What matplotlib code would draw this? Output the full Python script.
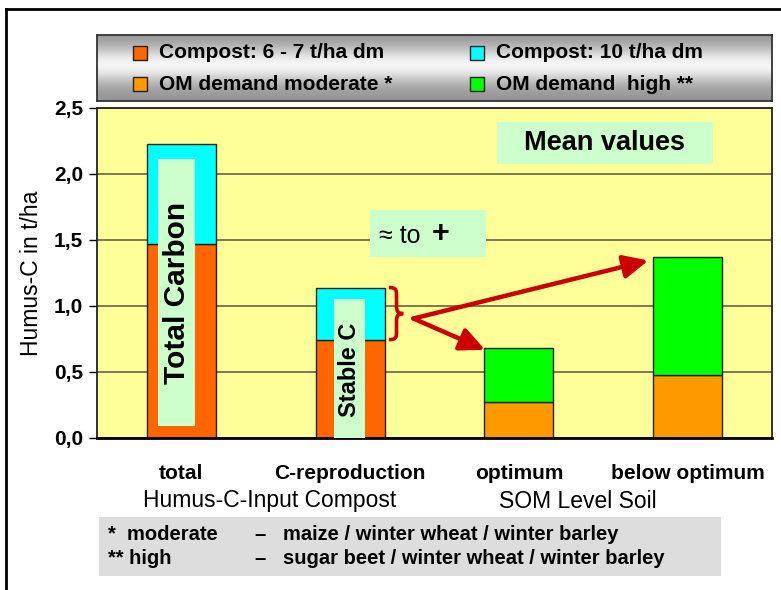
import numpy as np
import matplotlib
matplotlib.use("Agg")
import matplotlib.pyplot as plt
from matplotlib.patches import Rectangle, FancyArrowPatch, PathPatch
from matplotlib.path import Path
from matplotlib.lines import Line2D

plt.rcParams['font.family'] = ['Liberation Sans', 'DejaVu Sans']

# ---- data ----
categories = ["total", "C-reproduction", "optimum", "below optimum"]
groups = ["Humus-C-Input Compost", "SOM Level Soil"]
compost_6_7 = [1.47, 0.745]          # t/ha humus-C, compost 6-7 t/ha dm
compost_10 = [2.23, 1.14]            # t/ha humus-C, compost 10 t/ha dm
om_moderate = [0.27, 0.48]           # OM demand moderate
om_high = [0.68, 1.375]              # OM demand high
yticks = [0.0, 0.5, 1.0, 1.5, 2.0, 2.5]
ytick_labels = ["0,0", "0,5", "1,0", "1,5", "2,0", "2,5"]
legend_labels = ["Compost: 6 - 7 t/ha dm", "Compost: 10 t/ha dm",
                 "OM demand moderate *", "OM demand  high **"]
footnotes = [("*  moderate", "maize / winter wheat / winter barley"),
             ("** high", "sugar beet / winter wheat / winter barley")]

c_red = "#FF6600"
c_cyan = "#00FFFF"
c_orange = "#FF9900"
c_green = "#00FF00"
c_bg = "#FFFF99"
c_box = "#CCFFCC"
c_arrow = "#CC0000"

W, H = 781, 590
fig = plt.figure(figsize=(W / 100, H / 100), dpi=100)

def fx(px):
    return px / W

def fy(py):
    return 1 - py / H

# main axes
ax = fig.add_axes([fx(97), fy(438), (772 - 97) / W, (438 - 108) / H])
ax.set_facecolor(c_bg)
ax.set_xlim(-0.5, 3.5)
ax.set_ylim(0, 2.5)
ax.set_yticks(yticks)
ax.set_yticklabels(ytick_labels, fontsize=15, fontweight='bold')
ax.tick_params(axis='y', length=6, width=1, direction='out', pad=4)
ax.yaxis.grid(True, color='#555544', linewidth=1.1)
ax.set_axisbelow(True)
for s in ax.spines.values():
    s.set_linewidth(1.3)
    s.set_color('#222222')
ax.spines['bottom'].set_linewidth(2)
ax.spines['bottom'].set_color('black')

x = np.arange(len(categories))
bw = 0.41
xc = x[:2]
xs = x[2:]
ax.bar(xc, compost_6_7, width=bw, color=c_red, edgecolor='#222222', linewidth=1, zorder=2)
ax.bar(xc, np.array(compost_10) - np.array(compost_6_7), bottom=compost_6_7, width=bw,
       color=c_cyan, edgecolor='#222222', linewidth=1, zorder=2)
ax.bar(xs, om_moderate, width=bw, color=c_orange, edgecolor='#222222', linewidth=1, zorder=2)
ax.bar(xs, np.array(om_high) - np.array(om_moderate), bottom=om_moderate, width=bw,
       color=c_green, edgecolor='#222222', linewidth=1, zorder=2)

ax.set_xticks(x)
ax.set_xticklabels(categories, fontsize=15, fontweight='bold')
ax.tick_params(axis='x', length=0, pad=19)

ax.set_ylabel("Humus-C in t/ha", fontsize=16.5, labelpad=8)

# inner label boxes
ax.add_patch(Rectangle((-0.137, 0.09), 0.22, 2.02, facecolor=c_box, edgecolor='none', zorder=3))
ax.text(-0.027, 1.10, "Total Carbon", rotation=90, ha='center', va='center',
        fontsize=21.5, fontweight='bold', zorder=4)
ax.add_patch(Rectangle((0.905, 0.0), 0.185, 1.05, facecolor=c_box, edgecolor='none', zorder=3))
ax.text(0.997, 0.52, "Stable C", rotation=90, ha='center', va='center',
        fontsize=17, fontweight='bold', zorder=4)

ax.add_patch(Rectangle((1.119, 1.375), 0.685, 0.35, facecolor=c_box, edgecolor='none', zorder=3))
ax.text(1.17, 1.53, "≈ to", ha='left', va='center', fontsize=18, zorder=4)
ax.text(1.485, 1.545, "+", ha='left', va='center', fontsize=22, fontweight='bold', zorder=4)

ax.add_patch(Rectangle((1.869, 2.074), 1.28, 0.32, facecolor=c_box, edgecolor='none', zorder=3))
ax.text(2.509, 2.234, "Mean values", ha='center', va='center', fontsize=19.5,
        fontweight='bold', zorder=4)

# brace
bx0, bx1, bxm = 1.23, 1.275, 1.315
ytop, ybot, ymid = 1.14, 0.745, 0.9425
verts = [(bx0, ytop), (bx1, ytop), (bx1, ytop - 0.02), (bx1, ytop - 0.07),
         (bx1, ymid + 0.06),
         (bx1, ymid + 0.01), (bx1 + 0.01, ymid), (bxm, ymid),
         (bx1 + 0.01, ymid), (bx1, ymid - 0.01), (bx1, ymid - 0.06),
         (bx1, ybot + 0.07),
         (bx1, ybot + 0.02), (bx1, ybot), (bx0, ybot)]
codes = [Path.MOVETO, Path.CURVE4, Path.CURVE4, Path.CURVE4, Path.LINETO,
         Path.CURVE4, Path.CURVE4, Path.CURVE4,
         Path.CURVE4, Path.CURVE4, Path.CURVE4, Path.LINETO,
         Path.CURVE4, Path.CURVE4, Path.CURVE4]
ax.add_patch(PathPatch(Path(verts, codes), facecolor='none', edgecolor=c_arrow,
                       linewidth=2.6, zorder=5))

# arrows
start = (1.375, 0.905)
for tip in [(2.768, 1.345), (1.80, 0.668)]:
    ax.add_patch(FancyArrowPatch(start, tip, arrowstyle='-|>,head_length=15,head_width=7',
                                 mutation_scale=1, color=c_arrow, linewidth=3.2,
                                 shrinkA=0, shrinkB=0, zorder=6))

# group labels
fig.text(fx(270), fy(501), groups[0], ha='center', va='center', fontsize=16.5)
fig.text(fx(578), fy(501), groups[1], ha='center', va='center', fontsize=16.5)

# footnote box
fig.patches.append(Rectangle((fx(99), fy(576)), (721 - 99) / W, (576 - 517) / H,
                             transform=fig.transFigure, facecolor='#DDDDDD',
                             edgecolor='none', zorder=1))
for i, (a, b) in enumerate(footnotes):
    yy = fy(535 + 23 * i)
    fig.text(fx(108), yy, a, ha='left', va='center', fontsize=14.5, fontweight='bold')
    fig.text(fx(254), yy, "–", ha='left', va='center', fontsize=14.5, fontweight='bold')
    fig.text(fx(283), yy, b, ha='left', va='center', fontsize=14.5, fontweight='bold')

# legend box with gradient
lax = fig.add_axes([fx(97), fy(101), (772 - 97) / W, (101 - 35) / H])
t = np.linspace(0, 1, 200)
g = 0.58 + 0.38 * np.exp(-((t - 0.45) / 0.28) ** 2)
img = np.repeat(g[:, None], 10, axis=1)
lax.imshow(img, cmap='gray', vmin=0, vmax=1, aspect='auto', extent=[0, 1, 0, 1], origin='upper')
lax.set_xlim(0, 1)
lax.set_ylim(0, 1)
lax.set_xticks([])
lax.set_yticks([])
for s in lax.spines.values():
    s.set_color('#333333')
    s.set_linewidth(1.3)

leg_colors = [c_red, c_cyan, c_orange, c_green]
pos = [(133, 53), (470, 53), (133, 84), (470, 84)]
for (px, py), col, lab in zip(pos, leg_colors, legend_labels):
    fig.patches.append(Rectangle((fx(px), fy(py + 7)), 14 / W, 14 / H, transform=fig.transFigure,
                                 facecolor=col, edgecolor='#222222', linewidth=1, zorder=5))
    fig.text(fx(px + 26), fy(py), lab, ha='left', va='center', fontsize=15,
             fontweight='bold', zorder=6)

# outer frame
fig.add_artist(Line2D([fx(6), 1.0], [fy(9), fy(9)], transform=fig.transFigure,
                      color='black', linewidth=2))
fig.add_artist(Line2D([fx(6), fx(6)], [fy(9), 0.0], transform=fig.transFigure,
                      color='black', linewidth=2))

fig.savefig("out.png", dpi=100)
